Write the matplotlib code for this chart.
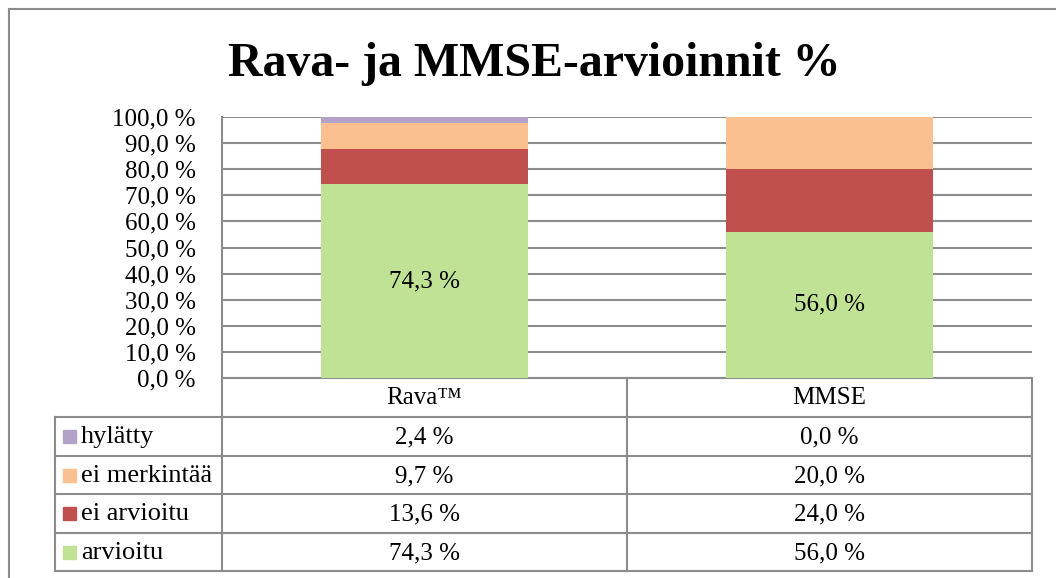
import numpy as np
import matplotlib
matplotlib.use("Agg")
import matplotlib.pyplot as plt

plt.rcParams['font.family'] = ['Liberation Serif', 'DejaVu Serif']

# data
categories = ["Rava™", "MMSE"]
series = ["arvioitu", "ei arvioitu", "ei merkintää", "hylätty"]
arvioitu = [74.3, 56.0]
ei_arvioitu = [13.6, 24.0]
ei_merkintaa = [9.7, 20.0]
hylatty = [2.4, 0.0]
values = [arvioitu, ei_arvioitu, ei_merkintaa, hylatty]
colors = ["#C0E294", "#C0504D", "#FAC090", "#B3A2C7"]
yticks = np.arange(0, 101, 10)

W, H = 1056, 578
fig = plt.figure(figsize=(W / 100, H / 100), dpi=100)
fs = 18

def fmt(v):
    return "{:.1f} %".format(v).replace(".", ",")

# overlay in pixel coords for frame and data table
ov = fig.add_axes([0, 0, 1, 1])
ov.set_xlim(0, W)
ov.set_ylim(H, 0)
ov.axis("off")

grey = "#8C8C8C"
ov.plot([9, 9], [9, H], color=grey, lw=1.5)
ov.plot([9, W], [9, 9], color=grey, lw=1.5)

ov.text(534, 64, "Rava- ja MMSE-arvioinnit %", ha="center", va="center",
        fontsize=34.5, fontweight="bold")

# plot area in pixels
x0, x1 = 222, 1032
y0, y1 = 117, 378
ax = fig.add_axes([x0 / W, 1 - y1 / H, (x1 - x0) / W, (y1 - y0) / H])
ax.patch.set_alpha(0)

xpos = np.arange(len(categories))
bottom = np.zeros(len(categories))
for vals, col in zip(values, colors):
    ax.bar(xpos, vals, width=0.513, bottom=bottom, color=col, zorder=2)
    bottom += np.array(vals)

for i, v in enumerate(arvioitu):
    ax.text(xpos[i], v / 2, fmt(v), ha="center", va="center", fontsize=fs, zorder=3)

ax.set_xlim(-0.5, len(categories) - 0.5)
ax.set_ylim(0, 100)
ax.set_yticks(yticks)
ax.set_yticklabels([fmt(t) for t in yticks], fontsize=fs)
ax.tick_params(axis="y", length=0, pad=19)
ax.set_xticks([])
ax.yaxis.grid(True, color=grey, lw=1.5, zorder=0)
for s in ["top", "right", "bottom"]:
    ax.spines[s].set_visible(False)
ax.spines["left"].set_color(grey)
ax.spines["left"].set_linewidth(1.5)

# data table
lx = 55
colx = [222, 627, 1032]
rows = [378, 417, 456, 494, 533, 571]
kw = dict(color=grey, lw=1.5)
for x in colx:
    ov.plot([x, x], [rows[0], rows[-1]], **kw)
ov.plot([lx, lx], [rows[1], rows[-1]], **kw)
ov.plot([colx[0], colx[-1]], [rows[0], rows[0]], **kw)
for y in rows[1:]:
    ov.plot([lx, colx[-1]], [y, y], **kw)

for j, cat in enumerate(categories):
    cx = (colx[j] + colx[j + 1]) / 2
    ov.text(cx, (rows[0] + rows[1]) / 2 + 1, cat, ha="center", va="center", fontsize=fs)

for r, k in enumerate(range(len(series) - 1, -1, -1)):
    ytop, ybot = rows[r + 1], rows[r + 2]
    yc = (ytop + ybot) / 2
    ov.add_patch(plt.Rectangle((63, yc - 6.5), 13, 13, color=colors[k]))
    ov.text(81, yc + 1, series[k], ha="left", va="center", fontsize=19)
    for j in range(len(categories)):
        cx = (colx[j] + colx[j + 1]) / 2
        ov.text(cx, yc + 1, fmt(values[k][j]), ha="center", va="center", fontsize=fs)

fig.savefig("out.png", dpi=100)
